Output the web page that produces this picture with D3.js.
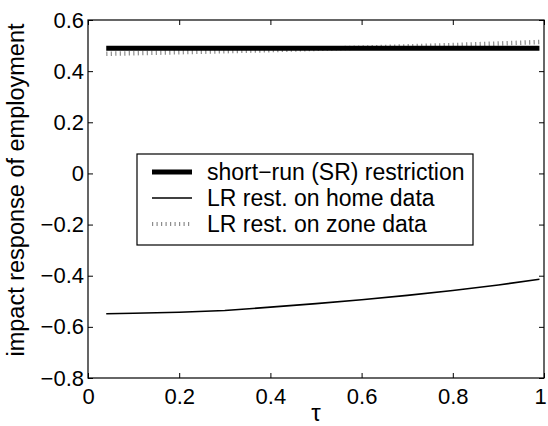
<!DOCTYPE html>
<html>
<head>
<meta charset="utf-8">
<script src="https://cdn.jsdelivr.net/npm/d3@7"></script>
<style>
  body { margin: 0; background: #fff; }
  text { font-family: "Liberation Sans", Arial, sans-serif; }
</style>
</head>
<body>
<div id="chart"></div>
<script>
// values
const tau = [0.04, 0.1, 0.2, 0.3, 0.4, 0.5, 0.6, 0.7, 0.8, 0.9, 0.99];
const srRestriction = [0.49, 0.49, 0.49, 0.49, 0.49, 0.49, 0.49, 0.49, 0.49, 0.49, 0.49];
const lrHome = [-0.549, -0.547, -0.543, -0.536, -0.523, -0.509, -0.494, -0.477, -0.458, -0.436, -0.414];
const lrZone = [0.468, 0.470, 0.474, 0.478, 0.482, 0.487, 0.492, 0.497, 0.502, 0.508, 0.514];
const xTicks = [0, 0.2, 0.4, 0.6, 0.8, 1];
const yTicks = [-0.8, -0.6, -0.4, -0.2, 0, 0.2, 0.4, 0.6];
const legendLabels = ["short\u2212run (SR) restriction", "LR rest. on home data", "LR rest. on zone data"];

const width = 548, height = 426;
const plotLeft = 88, plotRight = 544, plotTop = 20, plotBottom = 378;

const svg = d3.select("#chart")
  .append("svg")
  .attr("width", width)
  .attr("height", height);

const x = d3.scaleLinear().domain([0, 1]).range([plotLeft, plotRight]);
const y = d3.scaleLinear().domain([-0.8, 0.6]).range([plotBottom, plotTop]);

const fmt = d => d3.format("~g")(d).replace("-", "\u2212");

// lines
const line = d3.line().x((d, i) => x(tau[i])).y(d => y(d));

svg.append("path")
  .attr("d", line(lrZone))
  .attr("fill", "none")
  .attr("stroke", "#8c8c8c")
  .attr("stroke-width", 4.5)
  .attr("stroke-dasharray", "1.2,3.3");

svg.append("path")
  .attr("d", line(srRestriction))
  .attr("fill", "none")
  .attr("stroke", "#000")
  .attr("stroke-width", 5);

svg.append("path")
  .attr("d", line(lrHome))
  .attr("fill", "none")
  .attr("stroke", "#000")
  .attr("stroke-width", 1.6);

// axes with inward ticks (box on)
const xAxis = svg.append("g")
  .attr("transform", `translate(0,${plotBottom})`)
  .call(d3.axisBottom(x).tickValues(xTicks).tickSizeInner(-5).tickSizeOuter(0).tickPadding(10).tickFormat(fmt));
svg.append("g")
  .attr("transform", `translate(0,${plotTop})`)
  .call(d3.axisTop(x).tickValues(xTicks).tickSizeInner(-5).tickSizeOuter(0).tickFormat(""));
svg.append("g")
  .attr("transform", `translate(${plotLeft},0)`)
  .call(d3.axisLeft(y).tickValues(yTicks).tickSizeInner(-5).tickSizeOuter(0).tickPadding(4).tickFormat(fmt));
svg.append("g")
  .attr("transform", `translate(${plotRight},0)`)
  .call(d3.axisRight(y).tickValues(yTicks).tickSizeInner(-5).tickSizeOuter(0).tickFormat(""));

svg.selectAll(".domain").remove();
svg.selectAll(".tick line").attr("stroke", "#000").attr("stroke-width", 1);
svg.selectAll(".tick text")
  .attr("font-size", 22)
  .attr("fill", "#000")
  .style("font-family", "'Liberation Sans', Arial, sans-serif");
// keep the last x label inside the picture
xAxis.selectAll(".tick text").filter(d => d === 1).attr("dx", -4);

svg.append("rect")
  .attr("x", plotLeft).attr("y", plotTop)
  .attr("width", plotRight - plotLeft).attr("height", plotBottom - plotTop)
  .attr("fill", "none").attr("stroke", "#000").attr("stroke-width", 1.2);

// axis labels
svg.append("text")
  .attr("transform", `translate(24,${(plotTop + plotBottom) / 2 - 9}) rotate(-90)`)
  .attr("text-anchor", "middle")
  .attr("font-size", 23.5)
  .text("impact response of employment");

svg.append("text")
  .attr("x", (plotLeft + plotRight) / 2)
  .attr("y", 421)
  .attr("text-anchor", "middle")
  .attr("font-size", 24)
  .text("\u03c4");

// legend
const lg = svg.append("g");
lg.append("rect")
  .attr("x", 137).attr("y", 154)
  .attr("width", 336).attr("height", 91)
  .attr("fill", "#fff").attr("stroke", "#000").attr("stroke-width", 1.2);

const legendStyles = [
  { color: "#000", w: 5, dash: null },
  { color: "#000", w: 1.6, dash: null },
  { color: "#8c8c8c", w: 4, dash: "1.2,3.3" }
];
legendLabels.forEach((lab, i) => {
  const ly = 172 + i * 26;
  lg.append("line")
    .attr("x1", 152).attr("x2", 192)
    .attr("y1", ly).attr("y2", ly)
    .attr("stroke", legendStyles[i].color)
    .attr("stroke-width", legendStyles[i].w)
    .attr("stroke-dasharray", legendStyles[i].dash);
  lg.append("text")
    .attr("x", 207).attr("y", ly + 8)
    .attr("font-size", 23)
    .text(lab);
});
</script>
</body>
</html>
